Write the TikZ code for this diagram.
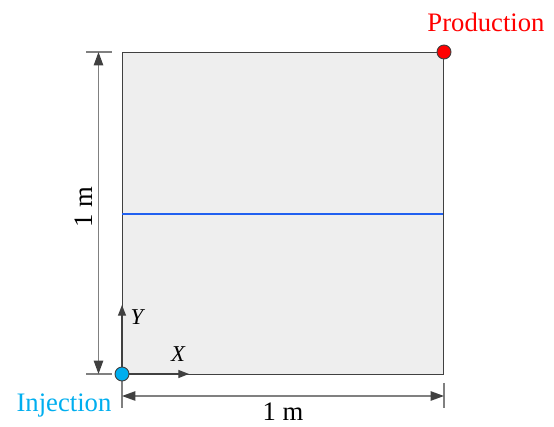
\documentclass[tikz,border=0pt]{standalone}
\usepackage{fontspec}
\setmainfont{Liberation Serif}
\usetikzlibrary{arrows.meta}
\definecolor{edgegray}{HTML}{404040}
\definecolor{dimgray}{HTML}{808080}
\definecolor{fillgray}{HTML}{EEEEEE}
\definecolor{injblue}{HTML}{00AEEF}
\definecolor{lineblue}{HTML}{2060F0}
\begin{document}
\begin{tikzpicture}[x=0.75pt,y=-0.75pt,
  dimline/.style={draw=dimgray,line width=1.1pt,{Triangle[length=10pt,width=7pt,color=edgegray]}-{Triangle[length=10pt,width=7pt,color=edgegray]}},
  extline/.style={draw=dimgray,line width=0.8pt},
  axisline/.style={draw=edgegray,line width=0.9pt,-{Triangle[length=8pt,width=6pt]}},
  wellpt/.style={circle,draw=edgegray,line width=0.7pt,minimum size=10.5pt,inner sep=0pt},
  lbl/.style={font=\rmfamily\fontsize{20}{24}\selectfont,inner sep=0pt},
  axlbl/.style={font=\rmfamily\fontsize{17}{20}\selectfont\itshape,inner sep=0pt}]
\useasboundingbox (0,0) rectangle (554,427);
% domain
\filldraw[fill=fillgray,draw=edgegray,line width=0.7pt] (122,52) rectangle (443,374);
\coordinate (bl) at (122,214);
\coordinate (br) at (443,214);
\draw[lineblue,line width=2.1pt] (bl) -- (br);
% extension lines
\coordinate (e1a) at (86,52); \coordinate (e1b) at (112,52);
\coordinate (e2a) at (86,374); \coordinate (e2b) at (112,374);
\coordinate (e3a) at (122,380); \coordinate (e3b) at (122,408);
\coordinate (e4a) at (444,383); \coordinate (e4b) at (444,408);
\draw[extline] (e1a) -- (e1b);
\draw[extline] (e2a) -- (e2b);
\draw[extline] (e3a) -- (e3b);
\draw[extline] (e4a) -- (e4b);
% dimension lines
\coordinate (vtop) at (98.5,52); \coordinate (vbot) at (98.5,374);
\coordinate (hl) at (122,396); \coordinate (hr) at (444,396);
\draw[dimline] (vtop) -- (vbot);
\draw[dimline] (hl) -- (hr);
\node[lbl,rotate=90] (dimv) at (84,207) {1 m};
\node[lbl] (dimh) at (283,412) {1 m};
% axes
\coordinate (o) at (122,374);
\coordinate (xa) at (189,374);
\coordinate (ya) at (122,305);
\draw[axisline] (o) -- (xa);
\draw[axisline] (o) -- (ya);
\node[axlbl] (xl) at (178,354) {X};
\node[axlbl] (yl) at (137,317) {Y};
% wells
\node[wellpt,fill=injblue] (inj) at (122,374) {};
\node[wellpt,fill=red] (prod) at (444,52) {};
\node[lbl,text=injblue] (injl) at (64,406) {Injection};
\node[lbl,text=red] (prodl) at (486,22) {Production};
\end{tikzpicture}
\end{document}
